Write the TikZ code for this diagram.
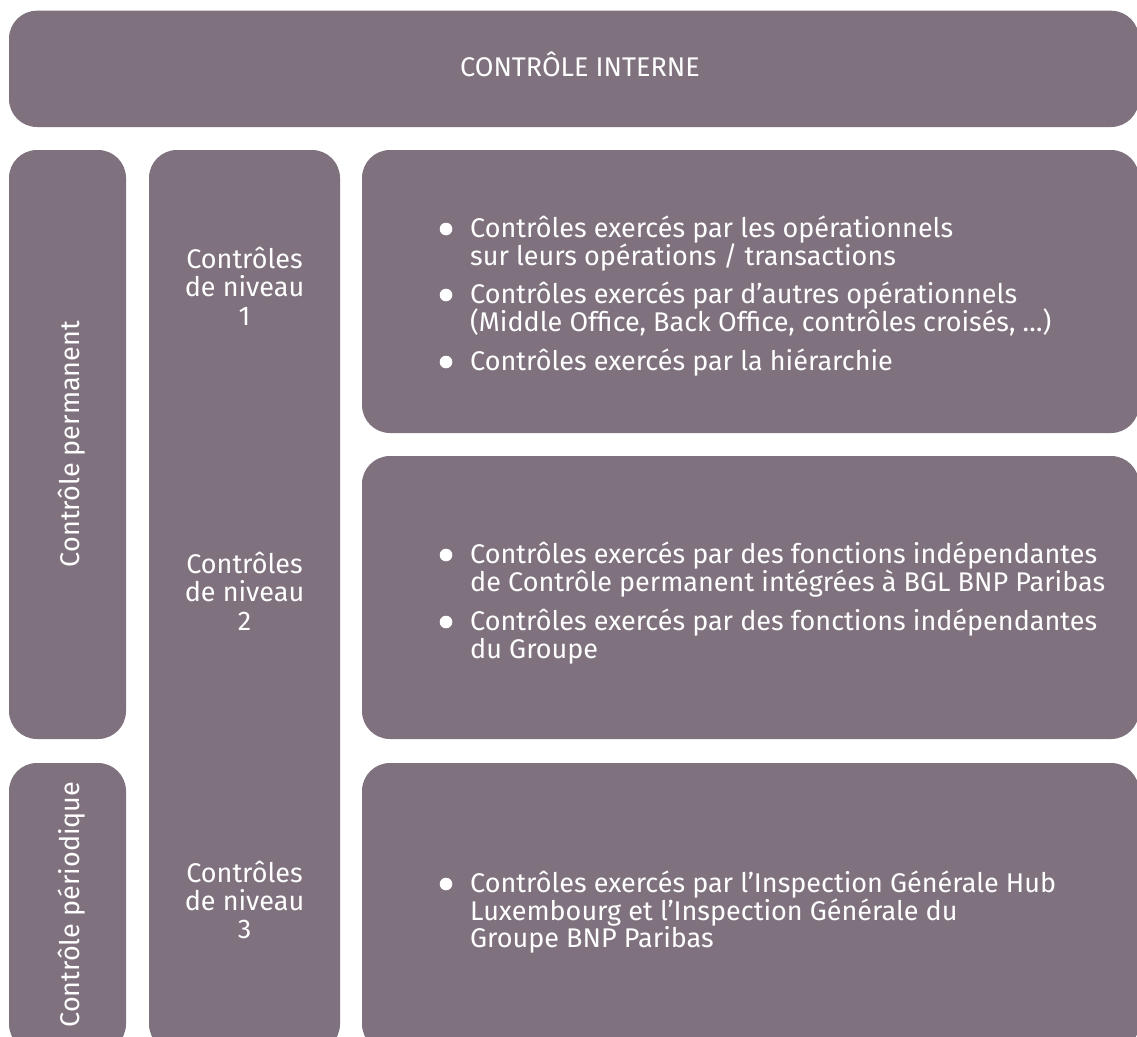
\documentclass[tikz,border=0pt]{standalone}
\usepackage{fontspec}
\setmainfont{Fira Sans}
\definecolor{boxc}{RGB}{127,114,126}
\begin{document}
\begin{tikzpicture}[x=1pt,y=-1pt,
  box/.style={fill=boxc, draw=none, rounded corners=28pt, inner sep=0pt},
  txt/.style={text=white, inner sep=0pt, font=\fontsize{27}{28}\selectfont},
  ltxt/.style={txt, anchor=base west},
  ctxt/.style={txt, anchor=base},
  vtxt/.style={txt, rotate=90, anchor=base},
  bul/.style={circle, fill=white, draw=none, minimum size=12.6pt, inner sep=0pt}]
\clip (0,0) rectangle (1137,1036);
\fill[white] (0,0) rectangle (1137,1036);
% boxes
\node[box, minimum width=1130pt, minimum height=116.3pt] (top) at (574,68.85) {};
\node[box, minimum width=117pt, minimum height=589pt] (perm) at (67.5,444.5) {};
\node[box, minimum width=117pt, minimum height=289pt] (perio) at (67.5,907.5) {};
\node[box, minimum width=191pt, minimum height=902pt] (mid) at (244.5,601) {};
\node[box, minimum width=777pt, minimum height=283pt] (r1) at (750.5,291.5) {};
\node[box, minimum width=777pt, minimum height=283pt] (r2) at (750.5,597.5) {};
\node[box, minimum width=777pt, minimum height=289pt] (r3) at (750.5,907.5) {};
% titles
\node[ctxt] (ttop) at (580,76.7) {CONTRÔLE INTERNE};
\node[vtxt] (tperm) at (79.5,444) {Contrôle permanent};
\node[vtxt] (tperio) at (79.5,904.5) {Contrôle périodique};
% levels
\node[ctxt] (l1a) at (244.5,268) {Contrôles};
\node[ctxt] (l1b) at (244.5,296.5) {de niveau};
\node[ctxt] (l1c) at (244.5,325) {1};
\node[ctxt] (l2a) at (244.5,573) {Contrôles};
\node[ctxt] (l2b) at (244.5,601.5) {de niveau};
\node[ctxt] (l2c) at (244.5,630) {2};
\node[ctxt] (l3a) at (244.5,882) {Contrôles};
\node[ctxt] (l3b) at (244.5,910) {de niveau};
\node[ctxt] (l3c) at (244.5,938) {3};
% box 1
\node[bul] (b11) at (446,229) {};
\node[ltxt] (t11a) at (470,237) {Contrôles exercés par les opérationnels};
\node[ltxt] (t11b) at (470,265) {sur leurs opérations / transactions};
\node[bul] (b12) at (446,295) {};
\node[ltxt] (t12a) at (470,303) {Contrôles exercés par d’autres opérationnels};
\node[ltxt] (t12b) at (470,331) {(Middle Office, Back Office, contrôles croisés, …)};
\node[bul] (b13) at (446,362) {};
\node[ltxt] (t13a) at (470,370) {Contrôles exercés par la hiérarchie};
% box 2
\node[bul] (b21) at (446,555) {};
\node[ltxt] (t21a) at (470,563) {Contrôles exercés par des fonctions indépendantes};
\node[ltxt] (t21b) at (470,591) {de Contrôle permanent intégrées à BGL BNP Paribas};
\node[bul] (b22) at (446,622) {};
\node[ltxt] (t22a) at (470,630) {Contrôles exercés par des fonctions indépendantes};
\node[ltxt] (t22b) at (470,658) {du Groupe};
% box 3
\node[bul] (b31) at (446,884) {};
\node[ltxt] (t31a) at (470,892) {Contrôles exercés par l’Inspection Générale Hub};
\node[ltxt] (t31b) at (470,920) {Luxembourg et l’Inspection Générale du};
\node[ltxt] (t31c) at (470,947) {Groupe BNP Paribas};
\end{tikzpicture}
\end{document}
